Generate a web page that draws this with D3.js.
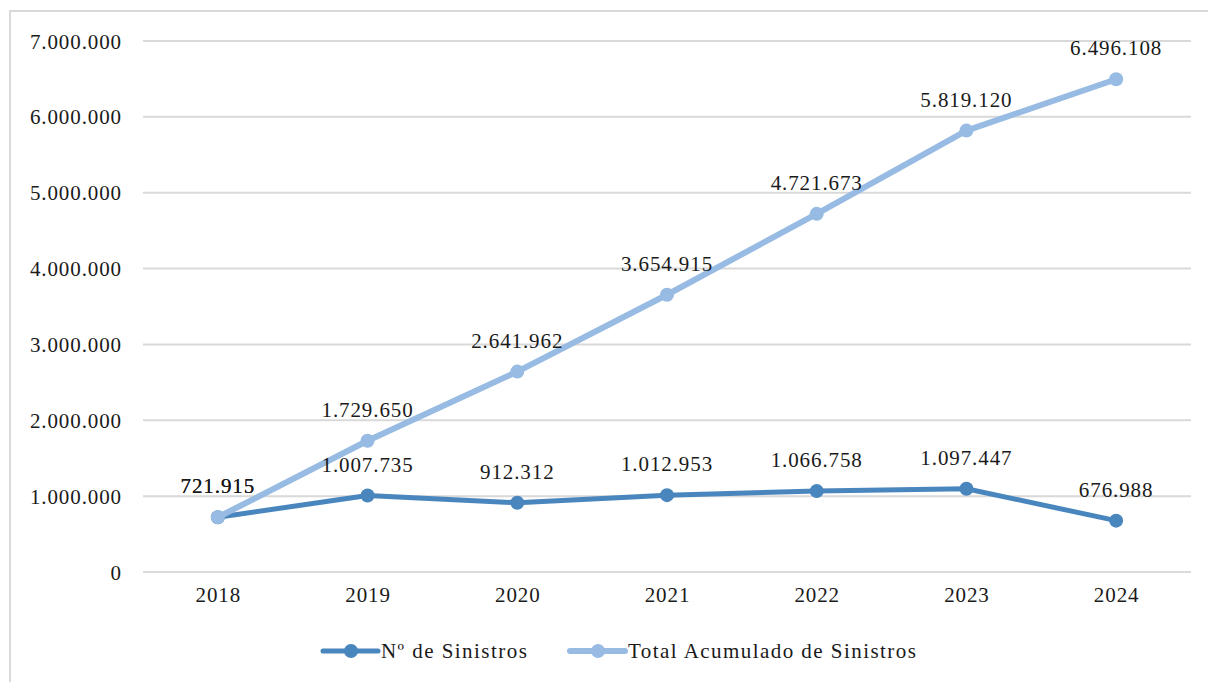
<!DOCTYPE html>
<html>
<head>
<meta charset="utf-8">
<script src="https://cdn.jsdelivr.net/npm/d3@7"></script>
<style>
  html, body { margin: 0; padding: 0; background: #fff; }
  svg { display: block; }
  text { font-family: "Liberation Serif", "Times New Roman", serif; fill: #1a1a1a; }
</style>
</head>
<body>
<svg id="chart" width="1208" height="682"></svg>
<script>
const years = ["2018", "2019", "2020", "2021", "2022", "2023", "2024"];
const sinistros = [721915, 1007735, 912312, 1012953, 1066758, 1097447, 676988];
const acumulado = [721915, 1729650, 2641962, 3654915, 4721673, 5819120, 6496108];
const yTicks = [0, 1000000, 2000000, 3000000, 4000000, 5000000, 6000000, 7000000];
const seriesNames = ["Nº de Sinistros", "Total Acumulado de Sinistros"];

const colors = ["#4a86be", "#97bbe2"];
const fontSize = 21;
const letterSp = 0.9;

const locale = d3.formatLocale({ decimal: ",", thousands: ".", grouping: [3], currency: ["", "€"] });
const fmt = locale.format(",d");

const svg = d3.select("#chart");
const W = 1208, H = 682;
const m = { left: 143, right: 17, top: 41, bottom: 110 };

// outer frame
svg.append("rect").attr("x", 10).attr("y", 11).attr("width", W).attr("height", H)
  .attr("fill", "none").attr("stroke", "#d9d9d9").attr("stroke-width", 2);

const x = d3.scalePoint().domain(years).range([m.left, W - m.right]).padding(0.5);
const y = d3.scaleLinear().domain([0, 7000000]).range([572, 41]);

// gridlines
svg.append("g").selectAll("line").data(yTicks).join("line")
  .attr("x1", m.left).attr("x2", W - m.right)
  .attr("y1", d => y(d)).attr("y2", d => y(d))
  .attr("stroke", "#d9d9d9").attr("stroke-width", 2);

// y axis labels
const yAxis = d3.axisLeft(y).tickValues(yTicks).tickFormat(fmt).tickSize(0).tickPadding(0);
const gy = svg.append("g").attr("transform", "translate(122,0)").call(yAxis);
gy.select(".domain").remove();
gy.selectAll("text").attr("font-size", fontSize).attr("letter-spacing", letterSp)
  .attr("font-family", "Liberation Serif").attr("fill", "#1a1a1a").attr("dy", "0.34em");

// x axis labels
const xAxis = d3.axisBottom(x).tickSize(0).tickPadding(0);
const gx = svg.append("g").attr("transform", "translate(0,595)").call(xAxis);
gx.select(".domain").remove();
gx.selectAll("text").attr("font-size", fontSize).attr("letter-spacing", letterSp)
  .attr("font-family", "Liberation Serif").attr("fill", "#1a1a1a").attr("dy", "0.34em");

const line = d3.line().x((d, i) => x(years[i])).y(d => y(d));

const seriesData = [sinistros, acumulado];
seriesData.forEach((vals, si) => {
  const g = svg.append("g");
  g.append("path").datum(vals).attr("d", line)
    .attr("fill", "none").attr("stroke", colors[si]).attr("stroke-width", si === 0 ? 5 : 6)
    .attr("stroke-linejoin", "round");
  g.selectAll("circle").data(vals).join("circle")
    .attr("cx", (d, i) => x(years[i])).attr("cy", d => y(d)).attr("r", 7)
    .attr("fill", colors[si]);
});

// data labels
seriesData.forEach((vals) => {
  svg.append("g").selectAll("text").data(vals).join("text")
    .attr("x", (d, i) => x(years[i])).attr("y", d => y(d) - 24)
    .attr("text-anchor", "middle").attr("font-size", fontSize).attr("letter-spacing", letterSp)
    .text(d => fmt(d));
});

// legend
const legendItems = [
  { name: seriesNames[0], color: colors[0], x0: 323, w: 5 },
  { name: seriesNames[1], color: colors[1], x0: 570, w: 6 }
];
const lg = svg.append("g");
legendItems.forEach(it => {
  lg.append("line").attr("x1", it.x0).attr("x2", it.x0 + 55).attr("y1", 651).attr("y2", 651)
    .attr("stroke", it.color).attr("stroke-width", it.w).attr("stroke-linecap", "round");
  lg.append("circle").attr("cx", it.x0 + 28).attr("cy", 651).attr("r", 7).attr("fill", it.color);
  lg.append("text").attr("x", it.x0 + 58).attr("y", 651).attr("dy", "0.34em")
    .attr("font-size", fontSize).attr("letter-spacing", 1.45).text(it.name);
});
</script>
</body>
</html>
